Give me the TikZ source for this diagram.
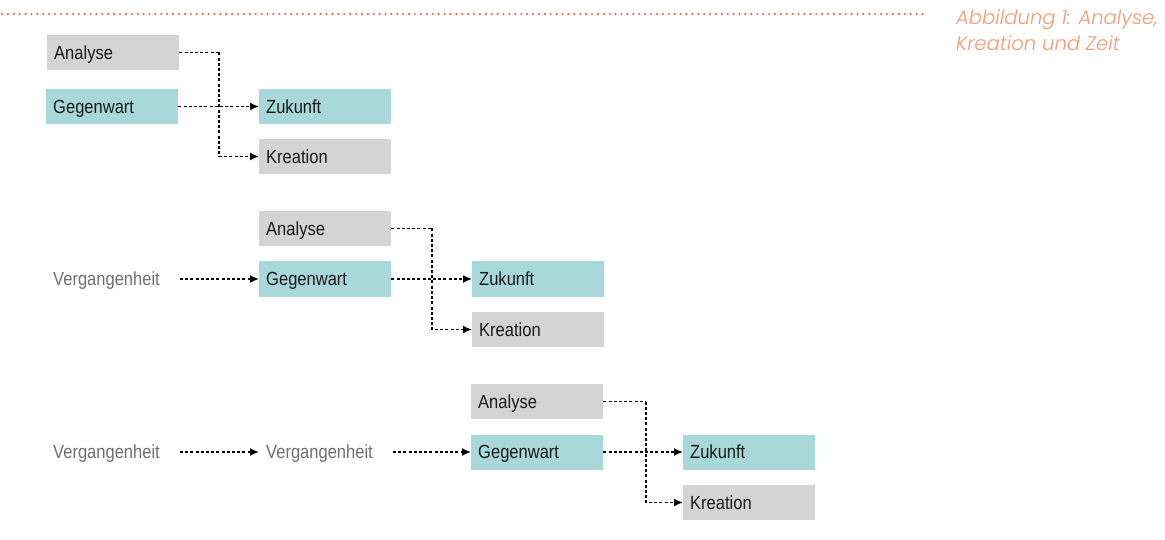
\documentclass[tikz,border=0pt]{standalone}
\usepackage{fontspec}
\setmainfont{Liberation Sans}
\newfontfamily\boxfont{Liberation Sans}[FakeStretch=0.87]
\newfontfamily\capfont{Poppins Light}[ItalicFont={Poppins Light Italic}]
\usetikzlibrary{arrows.meta}
\definecolor{boxgrey}{RGB}{212,212,212}
\definecolor{boxteal}{RGB}{168,216,218}
\definecolor{pastgrey}{RGB}{110,110,110}
\definecolor{capcol}{RGB}{244,155,115}
\definecolor{rulecol}{RGB}{234,100,70}
\tikzset{
  x=1pt, y=-1pt,
  lbl/.style={text height=17pt, text depth=3.4pt, font=\boxfont\fontsize{19}{22}\selectfont},
  box/.style={lbl, anchor=west, inner xsep=7pt, inner ysep=0pt, text width=118pt, align=left,
    minimum height=35pt, text=black!90},
  grey/.style={box, fill=boxgrey},
  teal/.style={box, fill=boxteal},
  past/.style={lbl, anchor=west, inner sep=0pt, text=pastgrey},
  flow/.style={draw=black, line width=1.6pt, dash pattern=on 3pt off 2.2pt, -{Latex[length=9pt,width=8pt]}},
  link/.style={draw=black, line width=1.6pt, dash pattern=on 3pt off 2.2pt},
}
\begin{document}
\begin{tikzpicture}
\useasboundingbox (0,0) rectangle (1165,540);
% top rule
\coordinate (r1) at (2,14);
\coordinate (r2) at (925,14);
\draw[rulecol, line width=2.4pt, dash pattern=on 0pt off 5.9pt, line cap=round] (r1) -- (r2);
\node[anchor=north west, inner sep=0pt, align=left, text=capcol, font=\capfont\itshape\fontsize{19.6}{26}\selectfont] (cap) at (956,10) {Abbildung 1: Analyse,\\Kreation und Zeit};

% row 1
\node[grey] (a1) at (47,52.5) {Analyse};
\node[teal] (g1) at (46,106.5) {Gegenwart};
\node[teal] (z1) at (259,106.5) {Zukunft};
\node[grey] (k1) at (259,156.5) {Kreation};
\draw[link] (a1.east) -- (219,52.5) coordinate (j1);
\draw[flow] (j1) |- (k1.west);
\draw[flow] (g1.east) -- (z1.west);

% row 2
\node[past] (v2) at (53,279) {Vergangenheit};
\node[grey] (a2) at (259,228.5) {Analyse};
\node[teal] (g2) at (259,279) {Gegenwart};
\node[teal] (z2) at (472,279) {Zukunft};
\node[grey] (k2) at (472,329.5) {Kreation};
\draw[flow, shorten <=20pt] (v2.east) -- (g2.west);
\draw[link] (a2.east) -- (432,228.5) coordinate (j2);
\draw[flow] (j2) |- (k2.west);
\draw[flow] (g2.east) -- (z2.west);

% row 3
\node[past] (v3) at (53,452) {Vergangenheit};
\node[past] (w3) at (266,452) {Vergangenheit};
\node[grey] (a3) at (471,401.5) {Analyse};
\node[teal] (g3) at (471,452) {Gegenwart};
\node[teal] (z3) at (683,452) {Zukunft};
\node[grey] (k3) at (683,502.5) {Kreation};
\draw[flow, shorten <=20pt, shorten >=7pt] (v3.east) -- (w3.west);
\draw[flow, shorten <=20pt] (w3.east) -- (g3.west);
\draw[link] (a3.east) -- (646,401.5) coordinate (j3);
\draw[flow] (j3) |- (k3.west);
\draw[flow] (g3.east) -- (z3.west);
\end{tikzpicture}
\end{document}
